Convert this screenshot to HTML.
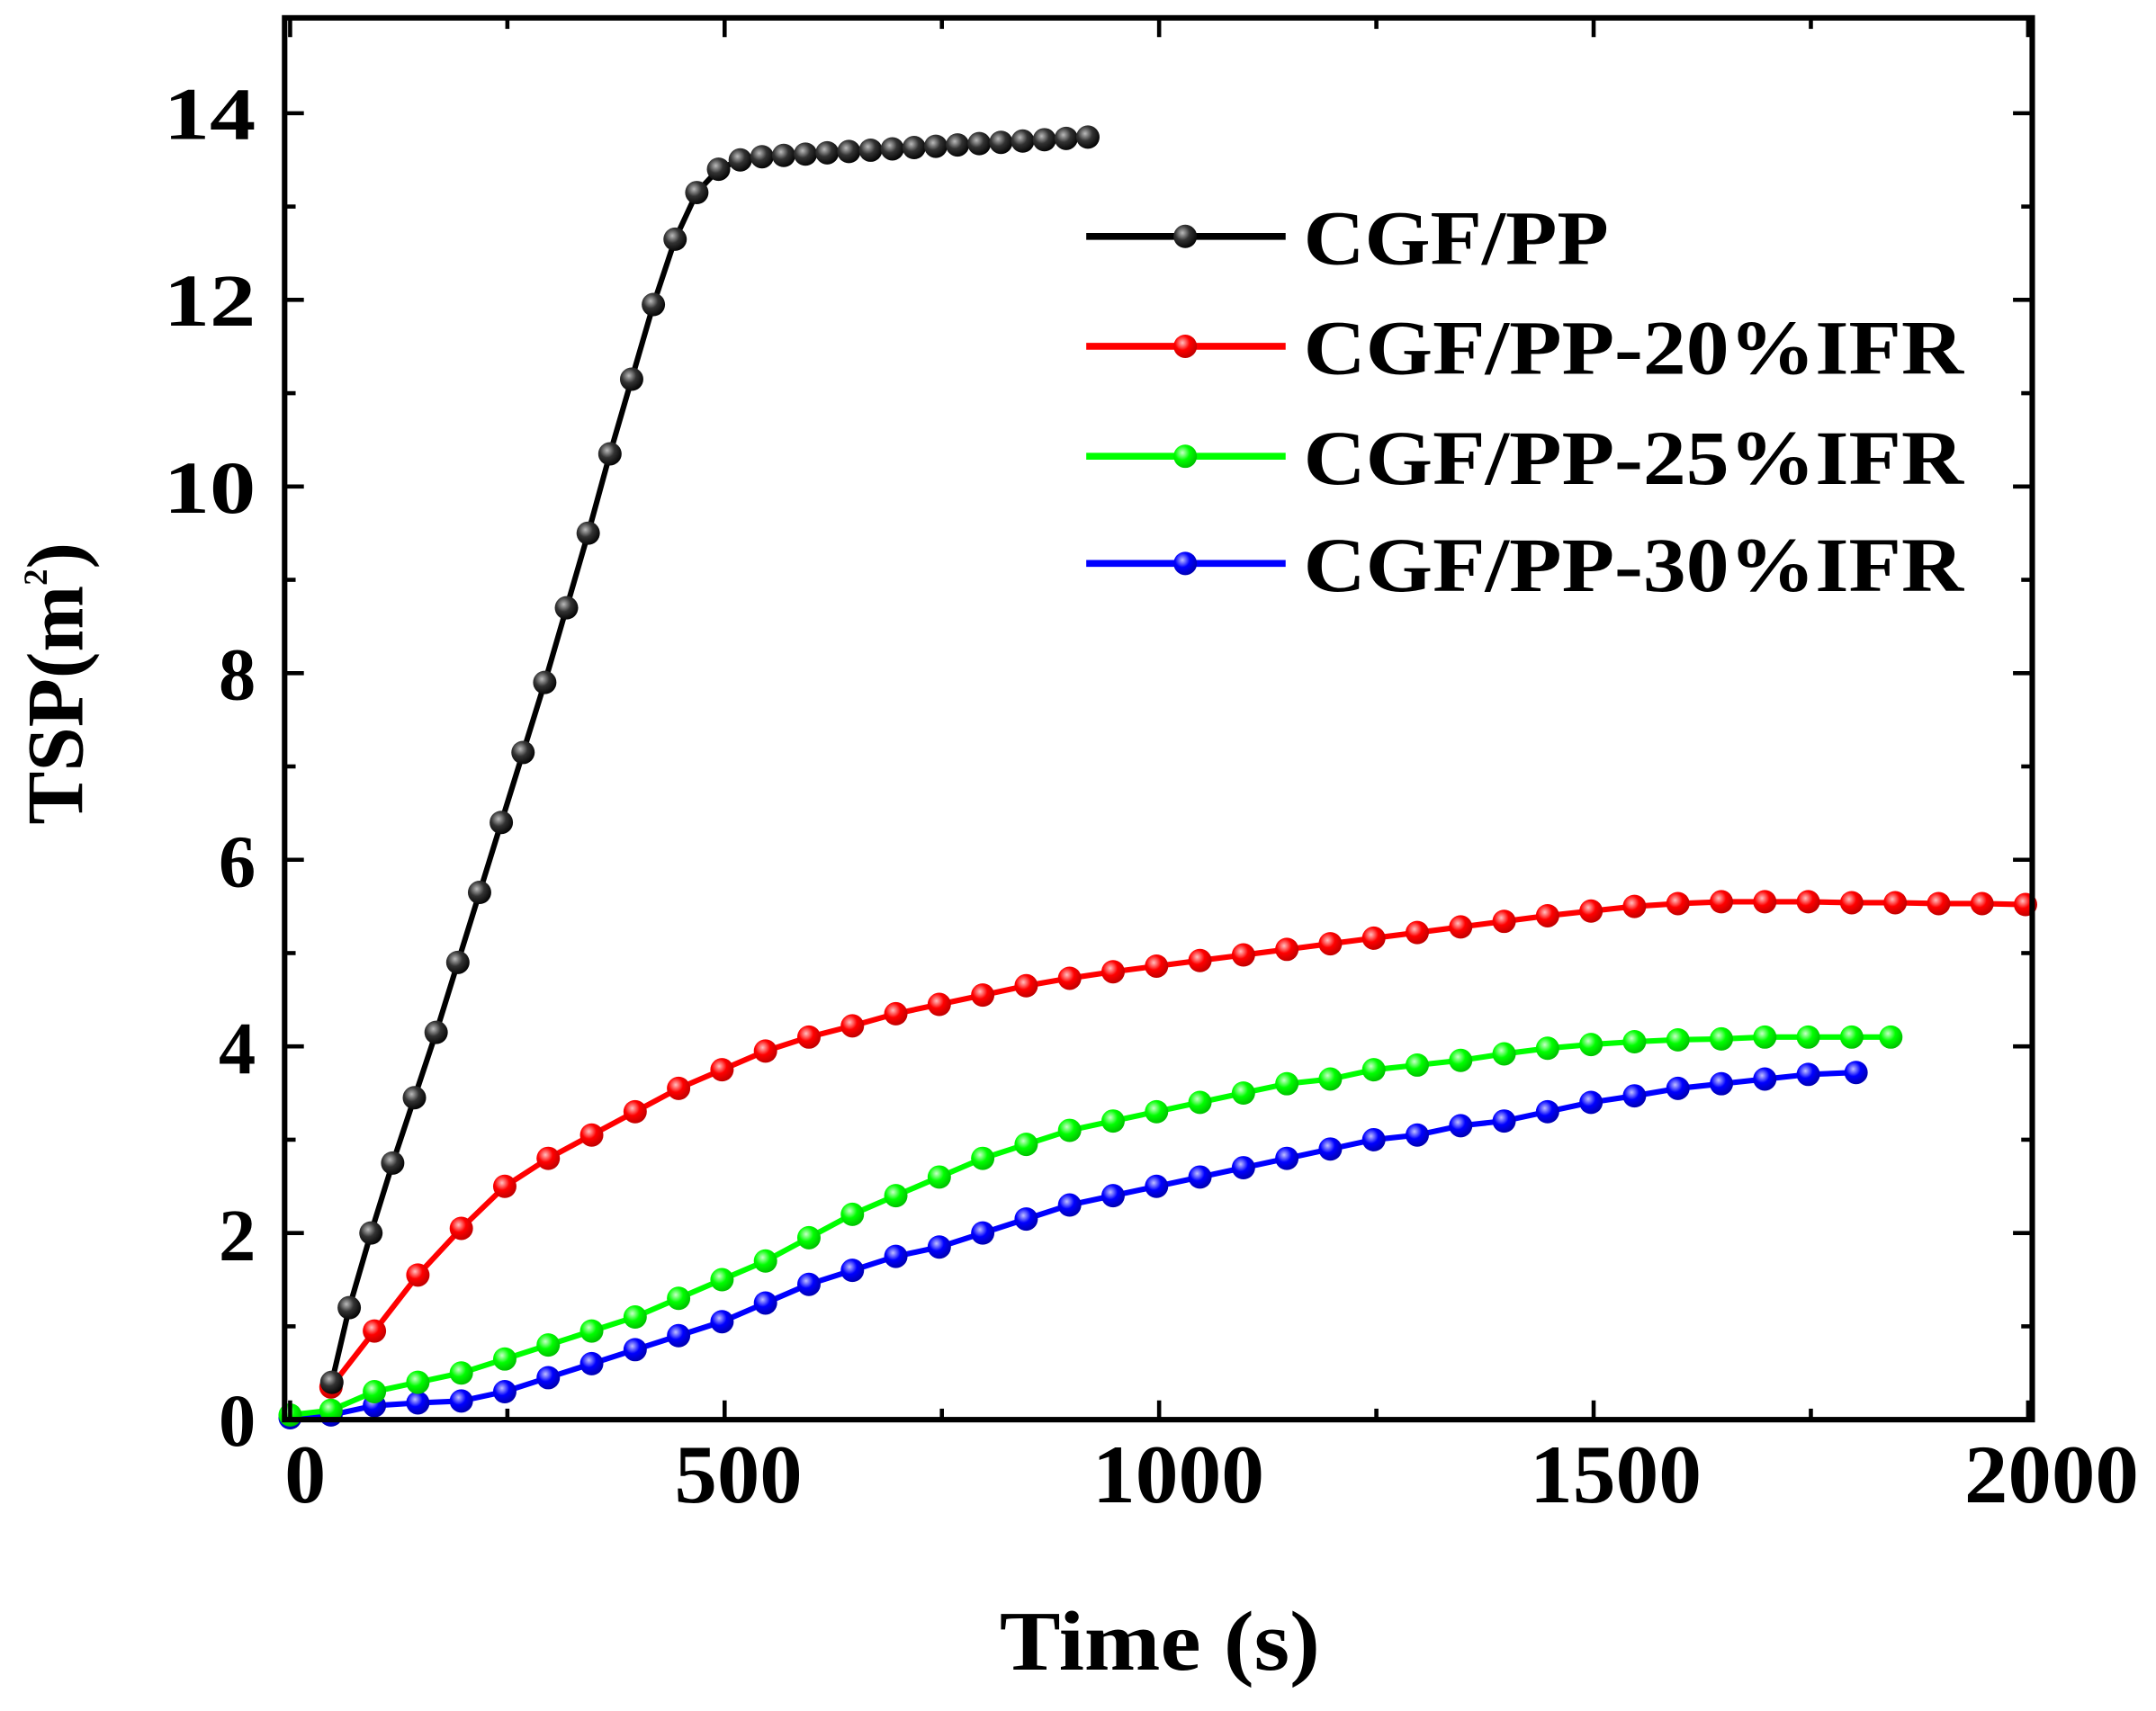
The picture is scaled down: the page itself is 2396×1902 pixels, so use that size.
<!DOCTYPE html>
<html><head><meta charset="utf-8"><style>
html,body{margin:0;padding:0;background:#fff;}
svg{display:block;}
text{font-family:"Liberation Serif",serif;font-weight:bold;fill:#000;}
</style></head><body>
<svg id="s" width="2396" height="1902" viewBox="0 0 1568 1245" preserveAspectRatio="none" xmlns="http://www.w3.org/2000/svg">
<defs>
<radialGradient id="gk" cx="0.38" cy="0.35" r="0.7"><stop offset="0" stop-color="#bbb"/><stop offset="0.45" stop-color="#333"/><stop offset="1" stop-color="#000"/></radialGradient>
<radialGradient id="gr" cx="0.38" cy="0.35" r="0.7"><stop offset="0" stop-color="#ffc0c0"/><stop offset="0.45" stop-color="#f00"/><stop offset="1" stop-color="#b00"/></radialGradient>
<radialGradient id="gg" cx="0.38" cy="0.35" r="0.7"><stop offset="0" stop-color="#c8ffc8"/><stop offset="0.45" stop-color="#0f0"/><stop offset="1" stop-color="#0b0"/></radialGradient>
<radialGradient id="gb" cx="0.38" cy="0.35" r="0.7"><stop offset="0" stop-color="#c0c0ff"/><stop offset="0.45" stop-color="#00f"/><stop offset="1" stop-color="#00a"/></radialGradient>
</defs>
<g id="plot"></g>
<rect x="207" y="13" width="1271" height="1020" fill="none" stroke="#000" stroke-width="4"/>
<g id="ticks" stroke="#000" stroke-width="3"></g>
<g font-size="60" text-anchor="middle" lengthAdjust="spacingAndGlyphs">
<text x="222" y="1093">0</text>
<text x="537" y="1093" textLength="93" lengthAdjust="spacingAndGlyphs">500</text>
<text x="857" y="1093" textLength="125" lengthAdjust="spacingAndGlyphs">1000</text>
<text x="1175" y="1093" textLength="125" lengthAdjust="spacingAndGlyphs">1500</text>
<text x="1492" y="1093" textLength="127" lengthAdjust="spacingAndGlyphs">2000</text>
</g>
<g font-size="54" text-anchor="end">
<text x="186" y="1052">0</text><text x="186" y="917">2</text><text x="186" y="781">4</text><text x="186" y="645">6</text><text x="186" y="509">8</text>
<text x="186" y="373" textLength="67" lengthAdjust="spacingAndGlyphs">10</text>
<text x="186" y="237" textLength="67" lengthAdjust="spacingAndGlyphs">12</text>
<text x="186" y="101" textLength="67" lengthAdjust="spacingAndGlyphs">14</text>
</g>
<text x="727" y="1215" font-size="62" textLength="233" lengthAdjust="spacingAndGlyphs">Time (s)</text>
<text transform="translate(60,600) rotate(-90)" font-size="58">TSP(m<tspan font-size="24" dy="-26">2</tspan><tspan dy="26">)</tspan></text>
<g id="leg"></g>
</svg>
<script>
var X=function(t){return 211+t*0.632;},Y=function(v){return 1033-v*67.9;};
var ns="http://www.w3.org/2000/svg";
function el(p,n,a){var e=document.createElementNS(ns,n);for(var k in a)e.setAttribute(k,a[k]);p.appendChild(e);return e;}
var plot=document.getElementById('plot');
var blk=[[30,0.4],[50,1.2],[75,2.0],[100,2.75],[125,3.45],[150,4.15],[175,4.9],[200,5.65],[225,6.4],[250,7.15],[275,7.9],[300,8.7],[325,9.5],[350,10.35],[375,11.15],[400,11.95],[425,12.65],[450,13.15],[475,13.4],[500,13.5]];
blk=blk.map(function(p){return [p[0]+18,p[1]];});
for(var t=543;t<=925;t+=25){blk.push([t,13.52+(t-518)/410*0.23]);}
var red=[[30,0.35],[80,0.95],[130,1.55],[180,2.05],[230,2.5],[280,2.8],[330,3.05],[380,3.3],[430,3.55],[480,3.75],[530,3.95],[580,4.1],[630,4.22],[680,4.35],[730,4.45],[780,4.55],[830,4.65],[880,4.73],[930,4.8],[980,4.86],[1030,4.92],[1080,4.98],[1130,5.04],[1180,5.1],[1230,5.16],[1280,5.22],[1330,5.28],[1380,5.34],[1430,5.4],[1480,5.45],[1530,5.5],[1580,5.53],[1630,5.55],[1680,5.55],[1730,5.55],[1780,5.54],[1830,5.54],[1880,5.53],[1930,5.53],[1980,5.52]];
red=red.map(function(p){return [Math.min(2000,17+p[0]*1.0),p[1]];});
var grn=[[0,0.05],[30,0.1],[80,0.3],[130,0.4],[180,0.5],[230,0.65],[280,0.8],[330,0.95],[380,1.1],[430,1.3],[480,1.5],[530,1.7],[580,1.95],[630,2.2],[680,2.4],[730,2.6],[780,2.8],[830,2.95],[880,3.1],[930,3.2],[980,3.3],[1030,3.4],[1080,3.5],[1130,3.6],[1180,3.65],[1230,3.75],[1280,3.8],[1330,3.85],[1380,3.92],[1430,3.98],[1480,4.02],[1530,4.05],[1580,4.07],[1630,4.08],[1680,4.1],[1730,4.1],[1780,4.1],[1825,4.1]];
grn=grn.map(function(p,i){return [i?p[0]+17:p[0],p[1]];});
var blu=[[0,0.02],[30,0.05],[80,0.15],[130,0.18],[180,0.2],[230,0.3],[280,0.45],[330,0.6],[380,0.75],[430,0.9],[480,1.05],[530,1.25],[580,1.45],[630,1.6],[680,1.75],[730,1.85],[780,2.0],[830,2.15],[880,2.3],[930,2.4],[980,2.5],[1030,2.6],[1080,2.7],[1130,2.8],[1180,2.9],[1230,3.0],[1280,3.05],[1330,3.15],[1380,3.2],[1430,3.3],[1480,3.4],[1530,3.47],[1580,3.55],[1630,3.6],[1680,3.65],[1730,3.7],[1785,3.72]];
blu=blu.map(function(p,i){return [i?p[0]+17:p[0],p[1]];});
var ser=[[blu,'#00f','gb'],[grn,'#0f0','gg'],[red,'#f00','gr'],[blk,'#000','gk']];
ser.forEach(function(s){var d=s[0].map(function(p,i){return (i?'L':'M')+X(p[0]).toFixed(1)+' '+Y(p[1]).toFixed(1);}).join('');
el(plot,'path',{d:d,fill:'none',stroke:s[1],'stroke-width':4});
s[0].forEach(function(p){el(plot,'circle',{cx:X(p[0]),cy:Y(p[1]),r:8.5,fill:'url(#'+s[2]+')'});});});
var tk=document.getElementById('ticks');
for(var t=0;t<=2000;t+=250){var x=X(t),L=(t%500==0)?14:8;el(tk,'line',{x1:x,y1:1033,x2:x,y2:1033-L});el(tk,'line',{x1:x,y1:13,x2:x,y2:13+L});}
for(var v=0;v<=14;v+=1){var y=Y(v),L=(v%2==0)?14:8;el(tk,'line',{x1:207,y1:y,x2:207+L,y2:y});el(tk,'line',{x1:1478,y1:y,x2:1478-L,y2:y});}
var leg=document.getElementById('leg'),names=['CGF/PP','CGF/PP-20%IFR','CGF/PP-25%IFR','CGF/PP-30%IFR'],ly=[172,252,332,410],lens=[222,480,480,480];
[[ '#000','gk'],['#f00','gr'],['#0f0','gg'],['#00f','gb']].forEach(function(c,i){
el(leg,'line',{x1:790,y1:ly[i],x2:935,y2:ly[i],stroke:c[0],'stroke-width':5});
el(leg,'circle',{cx:862,cy:ly[i],r:8.5,fill:'url(#'+c[1]+')'});
var t=el(leg,'text',{x:948,y:ly[i]+20,'font-size':56,textLength:lens[i],lengthAdjust:'spacingAndGlyphs'});t.textContent=names[i];});
</script>
</body></html>
